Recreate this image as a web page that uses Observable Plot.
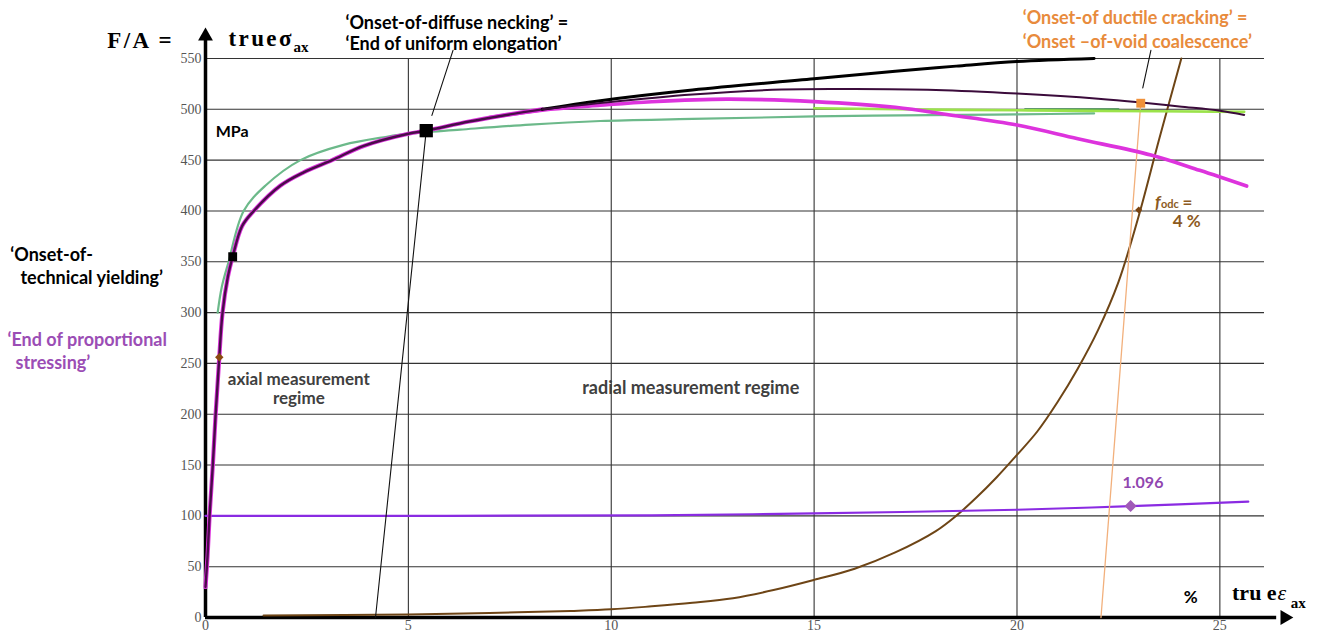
<!DOCTYPE html>
<html><head><meta charset="utf-8">
<script src="https://cdn.jsdelivr.net/npm/d3@7"></script>
<script src="https://cdn.jsdelivr.net/npm/@observablehq/plot@0.6"></script>
<style>
body{margin:0;background:#fff;overflow:hidden}
g[aria-description="serif-title"] text{letter-spacing:2.4px}
</style>
</head><body><div id="chart"></div>
<script>
// ---- tick values ----
const xTicks = [0, 5, 10, 15, 20, 25];
const yTicks = [0, 50, 100, 150, 200, 250, 300, 350, 400, 450, 500, 550];

// ---- curves [true strain %, true stress MPa] ----
const loadingCurve = [[0,30],[0.05,60],[0.1,100],[0.18,150],[0.25,200],[0.33,250],[0.42,300],[0.55,335],[0.67,355],[0.9,385],[1.19,400],[1.85,425],[2.42,438],[3.12,450],[3.9,464],[5,476],[5.44,479],[6.5,488],[7.5,495],[8.3,500]];
const blackBranch = [[8.3,500],[9.73,508.5],[12,519],[15,530],[17,537.5],[18.5,542.5],[20,547],[21.9,550]];
const purpleBranch = [[8.3,500],[9.8,506.5],[12,514.5],[14.2,519.5],[16,520],[18,519],[20,515.5],[22,510.5],[23,507],[24,502.8],[25,498.6],[25.6,494.5]];
const magentaBranch = [[7,492],[8.5,500],[9.73,504],[11,507.5],[12.85,510],[15,507.6],[17,502],[18.35,494.4],[20,484.5],[21.5,471],[23.3,455],[24.5,440],[25.66,424.5]];
const greenCurve = [[0.3,300],[0.4,325],[0.57,350],[0.94,400],[1.48,425],[2.34,450],[3.4,465],[4.47,473],[5,476],[6.28,480],[8,485],[9.73,488.5],[12,490.5],[15,493],[18.6,494.5],[20,495],[21.9,496]];
const darkGreenSegment = [[20.2,500],[22.5,500]];
const lightGreenCurve = [[15,501],[18.6,499.5],[22,498.5],[25.6,497.5]];
const ratioCurve = [[0,100],[11,100.5],[15,102.5],[20,106],[22.8,109.6],[25.7,114]];
const voidCurve = [[1.43,2],[5,3],[7,4.5],[9,6.5],[10,8],[11,11],[12,14.5],[13,19],[14,27],[15,37],[16,48],[17,64],[18,85],[18.5,100],[19,118],[19.5,138],[20,160],[20.5,183],[21,212],[21.5,245],[22,283],[22.5,330],[23,395],[23.5,470],[24.05,550]];
const unloadingLine = [[4.19,0],[5.44,479]];
const crackingLine = [[22.07,0],[23.05,506]];
const neckingLeader = [[5.58,494],[6.1,558]];
const crackingLeader = [[23.1,521],[23.3,558]];

// ---- marked points ----
const yieldPoint = [[0.67,355]];
const neckingPoint = [[5.44,479]];
const proportionalPoint = [[0.34,256]];
const fodcPoint = [[23.0,401]];
const ratioPoint = [[22.8,109.6]];
const crackingPoint = [[23.05,506]];

// ---- axis ends ----
const yAxisTop = 572;
const xAxisEnd = 26.6;

// ---- texts (anchored in data units) ----
const neckingText = [{x:3.45,y:584.4,t:"‘Onset-of-diffuse necking’ ="},{x:3.45,y:563.8,t:"‘End of uniform elongation’"}];
const crackingText = [{x:20.14,y:589.3,t:"‘Onset-of ductile cracking’ ="},{x:20.14,y:565.7,t:"‘Onset –of-void coalescence’"}];
const yieldText = [{x:-4.81,y:356.2,t:"‘Onset-of-"},{x:-4.56,y:333.5,t:"technical yielding’"}];
const propText = [{x:-4.88,y:272.5,t:"‘End of proportional"},{x:-4.68,y:249.9,t:"stressing’"}];
const axialText = [{x:2.3,y:234.2,t:"axial measurement"},{x:2.3,y:215.5,t:"regime"}];
const radialText = [{x:11.96,y:225.3,t:"radial measurement regime"}];
const mpaText = [{x:0.25,y:477.5,t:"MPa"}];
const percentText = [{x:24.28,y:20,t:"%"}];
const ratioText = [{x:22.6,y:132,t:"1.096"}];
const fodcF = [{x:23.4,y:408.6,t:"f"}];
const fodcSub = [{x:23.55,y:406,t:"odc"}];
const fodcEq = [{x:24.08,y:408.6,t:"="},{x:23.84,y:389.9,t:"4 %"}];
const yTitle = [{x:-2.42,y:567.7,t:"F/A ="},{x:0.567,y:569.7,t:"trueσ"}];
const yTitleSub = [{x:2.17,y:560.8,t:"ax"}];
const xTitle = [{x:25.3,y:24.6,t:"tru e"}];
const xTitleEps = [{x:26.42,y:24.6,t:"ε"}];
const xTitleSub = [{x:26.75,y:13.8,t:"ax"}];

const sans = "Lato, 'Open Sans', sans-serif";
const serif = "'Liberation Serif', 'DejaVu Serif', serif";
const lbl = (data, o) => Plot.text(data, {x:"x", y:"y", text:"t", textAnchor:"start", fontWeight:"bold", fontFamily:sans, fontSize:18, ...o});

const chart = Plot.plot({
  width: 1324, height: 635,
  marginLeft: 205, marginRight: 60, marginTop: 58, marginBottom: 18,
  x: {domain: [0, 26.1]},
  y: {domain: [0, 550]},
  style: {background: "white"},
  marks: [
    Plot.gridY(yTicks.filter(d => d > 0), {stroke: "#333", strokeOpacity: 1, strokeWidth: 1.1}),
    Plot.gridX(xTicks.filter(d => d > 0), {stroke: "#333", strokeOpacity: 1, strokeWidth: 1.1}),
    Plot.axisY(yTicks, {tickSize: 0, tickPadding: 4, fontSize: 14, fontFamily: serif, color: "#555", label: null}),
    Plot.axisX(xTicks, {tickSize: 0, tickPadding: 3, fontSize: 14, fontFamily: serif, color: "#555", label: null}),
    // axes with arrowheads
    Plot.ruleX([0], {y1: 0, y2: yAxisTop - 4, stroke: "black", strokeWidth: 3.5}),
    Plot.ruleY([0], {x1: 0, x2: xAxisEnd - 0.2, stroke: "black", strokeWidth: 3.5}),
    Plot.dot([[0, yAxisTop]], {symbol: "triangle", r: 5.5, fill: "black"}),
    Plot.dot([[xAxisEnd, 0]], {symbol: "triangle", r: 5.5, fill: "black", rotate: 90}),
    // curves
    Plot.line(voidCurve, {stroke: "#6e4516", strokeWidth: 2, curve: "catmull-rom"}),
    Plot.line(ratioCurve, {stroke: "#8a2be2", strokeWidth: 2.2, curve: "catmull-rom"}),
    Plot.line(crackingLine, {stroke: "#f2b07c", strokeWidth: 1.3}),
    Plot.line(unloadingLine, {stroke: "#111", strokeWidth: 1.1}),
    Plot.line(neckingLeader, {stroke: "#111", strokeWidth: 1.1}),
    Plot.line(crackingLeader, {stroke: "#111", strokeWidth: 1.1}),
    Plot.line(greenCurve, {stroke: "#6cb98a", strokeWidth: 2.2, curve: "catmull-rom"}),
    Plot.line(darkGreenSegment, {stroke: "#3f8a4f", strokeWidth: 2.2}),
    Plot.line(lightGreenCurve, {stroke: "#9be34a", strokeWidth: 2.6, curve: "catmull-rom"}),
    Plot.line(magentaBranch, {stroke: "#dd33dd", strokeWidth: 3.6, curve: "catmull-rom"}),
    Plot.line(loadingCurve, {stroke: "#dd33dd", strokeWidth: 4.2, curve: "catmull-rom"}),
    Plot.line(loadingCurve, {stroke: "#4a0c4a", strokeWidth: 2.4, curve: "catmull-rom"}),
    Plot.line(blackBranch, {stroke: "#000", strokeWidth: 3, curve: "catmull-rom"}),
    Plot.line(purpleBranch, {stroke: "#3b0b3b", strokeWidth: 2, curve: "catmull-rom"}),
    // points
    Plot.dot(yieldPoint, {symbol: "square", r: 5, fill: "#000"}),
    Plot.dot(neckingPoint, {symbol: "square", r: 7.5, fill: "#000"}),
    Plot.dot(proportionalPoint, {symbol: "diamond2", r: 3.8, fill: "#8b4a10"}),
    Plot.dot(fodcPoint, {symbol: "diamond2", r: 3.2, fill: "#7a4410"}),
    Plot.dot(ratioPoint, {symbol: "diamond2", r: 5.4, fill: "#a05ab8"}),
    Plot.dot(crackingPoint, {symbol: "square", r: 5, fill: "#f0913a"}),
    // texts
    lbl(neckingText, {fill: "#000"}),
    lbl(crackingText, {fill: "#e88b3c"}),
    lbl(yieldText, {fill: "#000"}),
    lbl(propText, {fill: "#9b4db5"}),
    lbl(axialText, {fill: "#404040", textAnchor: "middle", fontSize: 17}),
    lbl(radialText, {fill: "#404040", textAnchor: "middle", fontSize: 18}),
    lbl(mpaText, {fill: "#000", fontSize: 16}),
    lbl(percentText, {fill: "#000", textAnchor: "middle", fontSize: 17}),
    lbl(ratioText, {fill: "#9146b0", fontSize: 16}),
    lbl(fodcF, {fill: "#8c5a1e", fontStyle: "italic", fontSize: 17}),
    lbl(fodcSub, {fill: "#8c5a1e", fontSize: 11}),
    lbl(fodcEq, {fill: "#8c5a1e", fontSize: 17}),
    lbl(yTitle, {fill: "#000", fontFamily: serif, fontSize: 23, ariaDescription: "serif-title"}),
    lbl(yTitleSub, {fill: "#000", fontFamily: serif, fontSize: 15}),
    lbl(xTitle, {fill: "#000", fontFamily: serif, fontSize: 22}),
    lbl(xTitleEps, {fill: "#000", fontFamily: serif, fontSize: 22, fontStyle: "italic", fontWeight: "normal"}),
    lbl(xTitleSub, {fill: "#000", fontFamily: serif, fontSize: 15})
  ]
});
document.getElementById("chart").append(chart);
</script></body></html>
